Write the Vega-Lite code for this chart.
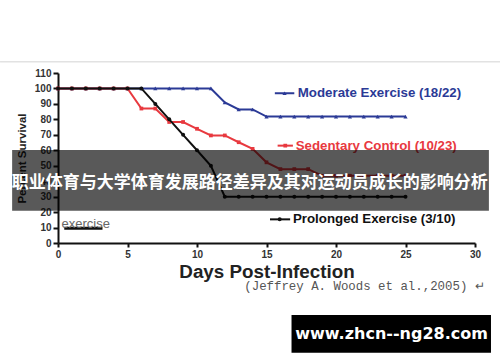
{
  "$schema": "https://vega.github.io/schema/vega-lite/v6.json",
  "autosize": "none",
  "width": 417,
  "height": 170,
  "padding": {"left": 58, "top": 73, "right": 25, "bottom": 119},
  "background": "white",
  "config": {"view": {"stroke": null}, "font": "Liberation Sans"},
  "data": {"values": [{}]},
  "datasets": {
    "survival": [
      {"day": 0, "pct": 100, "group": "Moderate"}, {"day": 1, "pct": 100, "group": "Moderate"}, {"day": 2, "pct": 100, "group": "Moderate"}, {"day": 3, "pct": 100, "group": "Moderate"}, {"day": 4, "pct": 100, "group": "Moderate"}, {"day": 5, "pct": 100, "group": "Moderate"}, {"day": 6, "pct": 100, "group": "Moderate"}, {"day": 7, "pct": 100, "group": "Moderate"}, {"day": 8, "pct": 100, "group": "Moderate"}, {"day": 9, "pct": 100, "group": "Moderate"}, {"day": 10, "pct": 100, "group": "Moderate"}, {"day": 11, "pct": 100, "group": "Moderate"}, {"day": 12, "pct": 90.9, "group": "Moderate"}, {"day": 13, "pct": 86.4, "group": "Moderate"}, {"day": 14, "pct": 86.4, "group": "Moderate"}, {"day": 15, "pct": 81.8, "group": "Moderate"}, {"day": 16, "pct": 81.8, "group": "Moderate"}, {"day": 17, "pct": 81.8, "group": "Moderate"}, {"day": 18, "pct": 81.8, "group": "Moderate"}, {"day": 19, "pct": 81.8, "group": "Moderate"}, {"day": 20, "pct": 81.8, "group": "Moderate"}, {"day": 21, "pct": 81.8, "group": "Moderate"}, {"day": 22, "pct": 81.8, "group": "Moderate"}, {"day": 23, "pct": 81.8, "group": "Moderate"}, {"day": 24, "pct": 81.8, "group": "Moderate"}, {"day": 25, "pct": 81.8, "group": "Moderate"},
      {"day": 0, "pct": 100, "group": "Sedentary"}, {"day": 1, "pct": 100, "group": "Sedentary"}, {"day": 2, "pct": 100, "group": "Sedentary"}, {"day": 3, "pct": 100, "group": "Sedentary"}, {"day": 4, "pct": 100, "group": "Sedentary"}, {"day": 5, "pct": 100, "group": "Sedentary"}, {"day": 6, "pct": 87.0, "group": "Sedentary"}, {"day": 7, "pct": 87.0, "group": "Sedentary"}, {"day": 8, "pct": 78.3, "group": "Sedentary"}, {"day": 9, "pct": 78.3, "group": "Sedentary"}, {"day": 10, "pct": 73.9, "group": "Sedentary"}, {"day": 11, "pct": 69.6, "group": "Sedentary"}, {"day": 12, "pct": 69.6, "group": "Sedentary"}, {"day": 13, "pct": 65.2, "group": "Sedentary"}, {"day": 14, "pct": 60.9, "group": "Sedentary"}, {"day": 15, "pct": 52.2, "group": "Sedentary"}, {"day": 16, "pct": 47.8, "group": "Sedentary"}, {"day": 17, "pct": 47.8, "group": "Sedentary"}, {"day": 18, "pct": 47.8, "group": "Sedentary"}, {"day": 19, "pct": 43.5, "group": "Sedentary"}, {"day": 20, "pct": 43.5, "group": "Sedentary"}, {"day": 21, "pct": 43.5, "group": "Sedentary"}, {"day": 22, "pct": 43.5, "group": "Sedentary"}, {"day": 23, "pct": 43.5, "group": "Sedentary"}, {"day": 24, "pct": 43.5, "group": "Sedentary"}, {"day": 25, "pct": 43.5, "group": "Sedentary"},
      {"day": 0, "pct": 100, "group": "Prolonged"}, {"day": 1, "pct": 100, "group": "Prolonged"}, {"day": 2, "pct": 100, "group": "Prolonged"}, {"day": 3, "pct": 100, "group": "Prolonged"}, {"day": 4, "pct": 100, "group": "Prolonged"}, {"day": 5, "pct": 100, "group": "Prolonged"}, {"day": 6, "pct": 100, "group": "Prolonged"}, {"day": 7, "pct": 90, "group": "Prolonged"}, {"day": 8, "pct": 80, "group": "Prolonged"}, {"day": 9, "pct": 70, "group": "Prolonged"}, {"day": 10, "pct": 60, "group": "Prolonged"}, {"day": 11, "pct": 50, "group": "Prolonged"}, {"day": 12, "pct": 30, "group": "Prolonged"}, {"day": 13, "pct": 30, "group": "Prolonged"}, {"day": 14, "pct": 30, "group": "Prolonged"}, {"day": 15, "pct": 30, "group": "Prolonged"}, {"day": 16, "pct": 30, "group": "Prolonged"}, {"day": 17, "pct": 30, "group": "Prolonged"}, {"day": 18, "pct": 30, "group": "Prolonged"}, {"day": 19, "pct": 30, "group": "Prolonged"}, {"day": 20, "pct": 30, "group": "Prolonged"}, {"day": 21, "pct": 30, "group": "Prolonged"}, {"day": 22, "pct": 30, "group": "Prolonged"}, {"day": 23, "pct": 30, "group": "Prolonged"}, {"day": 24, "pct": 30, "group": "Prolonged"}, {"day": 25, "pct": 30, "group": "Prolonged"}
    ]
  },
  "layer": [
    {
      "data": {"name": "survival"},
      "transform": [{"filter": "datum.group === 'Moderate'"}],
      "mark": {"type": "line", "color": "#2b3a96", "strokeWidth": 2, "point": {"shape": "triangle-up", "size": 18, "filled": true, "color": "#2b3a96"}},
      "encoding": {
        "x": {"field": "day", "type": "quantitative", "scale": {"domain": [0, 30]},
          "axis": {"values": [0, 5, 10, 15, 20, 25, 30], "tickCount": 7, "grid": false, "title": "Days Post-Infection", "titleFontSize": 18.8, "titleFontWeight": "bold", "titleColor": "#222", "titlePadding": 3, "labelFontSize": 10, "labelFontWeight": "bold", "labelColor": "#333", "labelPadding": 2, "domainColor": "#111", "domainWidth": 2, "tickColor": "#111", "tickWidth": 2, "tickSize": 4, "labelFlush": false}},
        "y": {"field": "pct", "type": "quantitative", "scale": {"domain": [0, 110]},
          "axis": {"values": [0, 10, 20, 30, 40, 50, 60, 70, 80, 90, 100, 110], "tickCount": 12, "labelOverlap": false, "grid": false, "title": "Percent Survival", "titleFontSize": 11.5, "titleFontWeight": "bold", "titleColor": "#222", "titlePadding": 7, "labelFontSize": 10, "labelFontWeight": "bold", "labelColor": "#333", "labelPadding": 2, "domainColor": "#111", "domainWidth": 2, "tickColor": "#111", "tickWidth": 2, "tickSize": 5}}
      }
    },
    {
      "mark": {"type": "rule", "color": "#e2e2e2", "strokeWidth": 1.5},
      "encoding": {"x": {"datum": -4.17}, "x2": {"datum": 31.8}, "y": {"datum": 117.2}}
    },
    {
      "data": {"name": "survival"},
      "transform": [{"filter": "datum.group === 'Sedentary'"}],
      "mark": {"type": "line", "color": "#e8393f", "strokeWidth": 2, "point": {"shape": "square", "size": 14, "filled": true, "color": "#e8393f"}},
      "encoding": {
        "x": {"field": "day", "type": "quantitative"},
        "y": {"field": "pct", "type": "quantitative"}
      }
    },
    {
      "data": {"name": "survival"},
      "transform": [{"filter": "datum.group === 'Prolonged'"}],
      "mark": {"type": "line", "color": "#111111", "strokeWidth": 2, "point": {"shape": "circle", "size": 16, "filled": true, "color": "#111111"}},
      "encoding": {
        "x": {"field": "day", "type": "quantitative"},
        "y": {"field": "pct", "type": "quantitative"}
      }
    },
    {
      "mark": {"type": "rule", "color": "#2b3a96", "strokeWidth": 2},
      "encoding": {"x": {"datum": 15.6}, "x2": {"datum": 17.0}, "y": {"datum": 96.9}}
    },
    {
      "mark": {"type": "point", "shape": "triangle-up", "size": 18, "filled": true, "color": "#2b3a96", "opacity": 1},
      "encoding": {"x": {"datum": 16.3}, "y": {"datum": 96.9}}
    },
    {
      "mark": {"type": "text", "text": "Moderate Exercise (18/22)", "align": "left", "baseline": "middle", "fontSize": 13.3, "fontWeight": "bold", "color": "#2b3a96"},
      "encoding": {"x": {"datum": 17.25}, "y": {"datum": 96.9}}
    },
    {
      "mark": {"type": "rule", "color": "#e8393f", "strokeWidth": 2},
      "encoding": {"x": {"datum": 15.8}, "x2": {"datum": 16.9}, "y": {"datum": 63}}
    },
    {
      "mark": {"type": "point", "shape": "square", "size": 14, "filled": true, "color": "#e8393f", "opacity": 1},
      "encoding": {"x": {"datum": 16.35}, "y": {"datum": 63}}
    },
    {
      "mark": {"type": "text", "text": "Sedentary Control (10/23)", "align": "left", "baseline": "middle", "fontSize": 13.3, "fontWeight": "bold", "color": "#e8393f"},
      "encoding": {"x": {"datum": 17.1}, "y": {"datum": 63}}
    },
    {
      "mark": {"type": "rule", "color": "#111111", "strokeWidth": 2},
      "encoding": {"x": {"datum": 15.25}, "x2": {"datum": 16.7}, "y": {"datum": 15.3}}
    },
    {
      "mark": {"type": "point", "shape": "circle", "size": 16, "filled": true, "color": "#111111", "opacity": 1},
      "encoding": {"x": {"datum": 15.95}, "y": {"datum": 15.3}}
    },
    {
      "mark": {"type": "text", "text": "Prolonged Exercise (3/10)", "align": "left", "baseline": "middle", "fontSize": 13.3, "fontWeight": "bold", "color": "#111111"},
      "encoding": {"x": {"datum": 16.9}, "y": {"datum": 15.3}}
    },
    {
      "mark": {"type": "rule", "color": "#111111", "strokeWidth": 3},
      "encoding": {"x": {"datum": 0.45}, "x2": {"datum": 3.2}, "y": {"datum": 9.5}}
    },
    {
      "mark": {"type": "text", "text": "exercise", "align": "left", "baseline": "middle", "fontSize": 13, "color": "#666666"},
      "encoding": {"x": {"datum": 0.25}, "y": {"datum": 12.2}}
    },
    {
      "mark": {"type": "rect", "color": "#000000", "opacity": 0.65},
      "encoding": {"x": {"datum": -3.3}, "x2": {"datum": 31.0}, "y": {"datum": 60.2}, "y2": {"datum": 20.9}}
    },
    {
      "mark": {"type": "text", "text": "职业体育与大学体育发展路径差异及其对运动员成长的影响分析", "align": "center", "baseline": "middle", "fontSize": 17, "fontWeight": "bold", "font": "Noto Sans CJK SC", "color": "#ffffff"},
      "encoding": {"x": {"datum": 13.8}, "y": {"datum": 39}}
    },
    {
      "mark": {"type": "text", "text": "(Jeffrey A. Woods et al.,2005) ↵", "align": "left", "baseline": "middle", "fontSize": 12.4, "font": "Liberation Mono", "color": "#555555"},
      "encoding": {"x": {"datum": 13.4}, "y": {"datum": -27.6}}
    },
    {
      "mark": {"type": "rect", "color": "#000000"},
      "encoding": {"x": {"datum": 16.8}, "x2": {"datum": 31.15}, "y": {"datum": -46.6}, "y2": {"datum": -71.0}}
    },
    {
      "mark": {"type": "text", "text": "www.zhcn--ng28.com", "align": "center", "baseline": "middle", "fontSize": 16, "fontWeight": "bold", "font": "DejaVu Sans", "color": "#ffffff"},
      "encoding": {"x": {"datum": 24.0}, "y": {"datum": -58.9}}
    }
  ]
}
